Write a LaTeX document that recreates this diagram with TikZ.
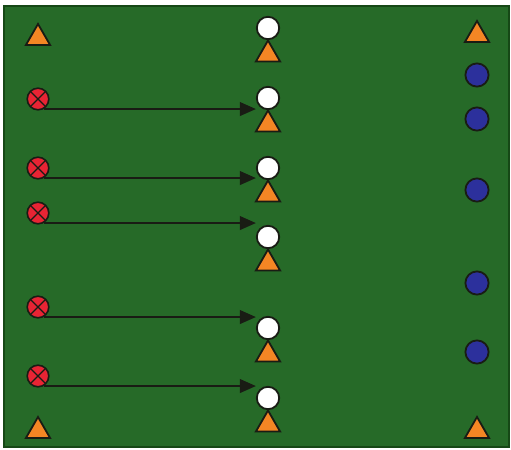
\documentclass[tikz,border=0pt]{standalone}
\usepackage{tikz}
\usetikzlibrary{arrows.meta,positioning,shapes.geometric}
\definecolor{pitch}{RGB}{38,106,40}
\definecolor{pitchedge}{RGB}{22,72,22}
\definecolor{ink}{RGB}{25,28,20}
\definecolor{conecol}{RGB}{244,134,36}
\definecolor{attcol}{RGB}{232,36,52}
\definecolor{defcol}{RGB}{44,48,156}
\tikzset{
  cone/.style={regular polygon,regular polygon sides=3,draw=ink,line width=0.45mm,
    fill=conecol,inner sep=0pt,minimum size=7mm},
  recv/.style={circle,draw=ink,line width=0.45mm,fill=white,inner sep=0pt,minimum size=5.6mm},
  keeper/.style={circle,draw=ink,line width=0.45mm,fill=defcol,inner sep=0pt,minimum size=5.8mm},
  runner/.style={circle,draw=ink,line width=0.4mm,fill=attcol,inner sep=0pt,minimum size=5.4mm,
    path picture={\draw[ink,line width=0.35mm]
      (path picture bounding box.north west) -- (path picture bounding box.south east)
      (path picture bounding box.north east) -- (path picture bounding box.south west);}},
  pass/.style={-{Triangle[length=4mm,width=3.4mm]},line width=0.5mm,ink},
}

\begin{document}
\begin{tikzpicture}[x=0.25mm,y=-0.25mm]
  \useasboundingbox (0,0) rectangle (511,450);
  \fill[pitch,draw=pitchedge,line width=0.4mm] (4,6) rectangle (509,447);

  % corner cones
  \node[cone] (c1) at (38,38) {};
  \node[cone] (c2) at (38,431) {};
  \node[cone] (c3) at (477,35) {};
  \node[cone] (c4) at (477,431) {};

  % middle line: white players with a cone each
  \node[recv] (w1) at (268,28) {};
  \node[recv] (w2) at (268,98) {};
  \node[recv] (w3) at (268,168) {};
  \node[recv] (w4) at (268,237) {};
  \node[recv] (w5) at (268,328) {};
  \node[recv] (w6) at (268,398) {};
  \node[cone,below=-1pt of w1] (m1) {};
  \node[cone,below=-1pt of w2] (m2) {};
  \node[cone,below=-1pt of w3] (m3) {};
  \node[cone,below=-1pt of w4] (m4) {};
  \node[cone,below=-1pt of w5] (m5) {};
  \node[cone,below=-1pt of w6] (m6) {};

  % blue players on the right
  \node[keeper] (b1) at (477,75) {};
  \node[keeper] (b2) at (477,119) {};
  \node[keeper] (b3) at (477,190) {};
  \node[keeper] (b4) at (477,283) {};
  \node[keeper] (b5) at (477,352) {};

  % red players on the left
  \node[runner] (r1) at (38,99) {};
  \node[runner] (r2) at (38,168) {};
  \node[runner] (r3) at (38,213) {};
  \node[runner] (r4) at (38,307) {};
  \node[runner] (r5) at (38,376) {};

  \draw[pass] (r1.-60) -- (r1.-60 -| w2.west);
  \draw[pass] (r2.-60) -- (r2.-60 -| w3.west);
  \draw[pass] (r3.-60) -- (r3.-60 -| w4.west);
  \draw[pass] (r4.-60) -- (r4.-60 -| w5.west);
  \draw[pass] (r5.-60) -- (r5.-60 -| w6.west);
\end{tikzpicture}
\end{document}
